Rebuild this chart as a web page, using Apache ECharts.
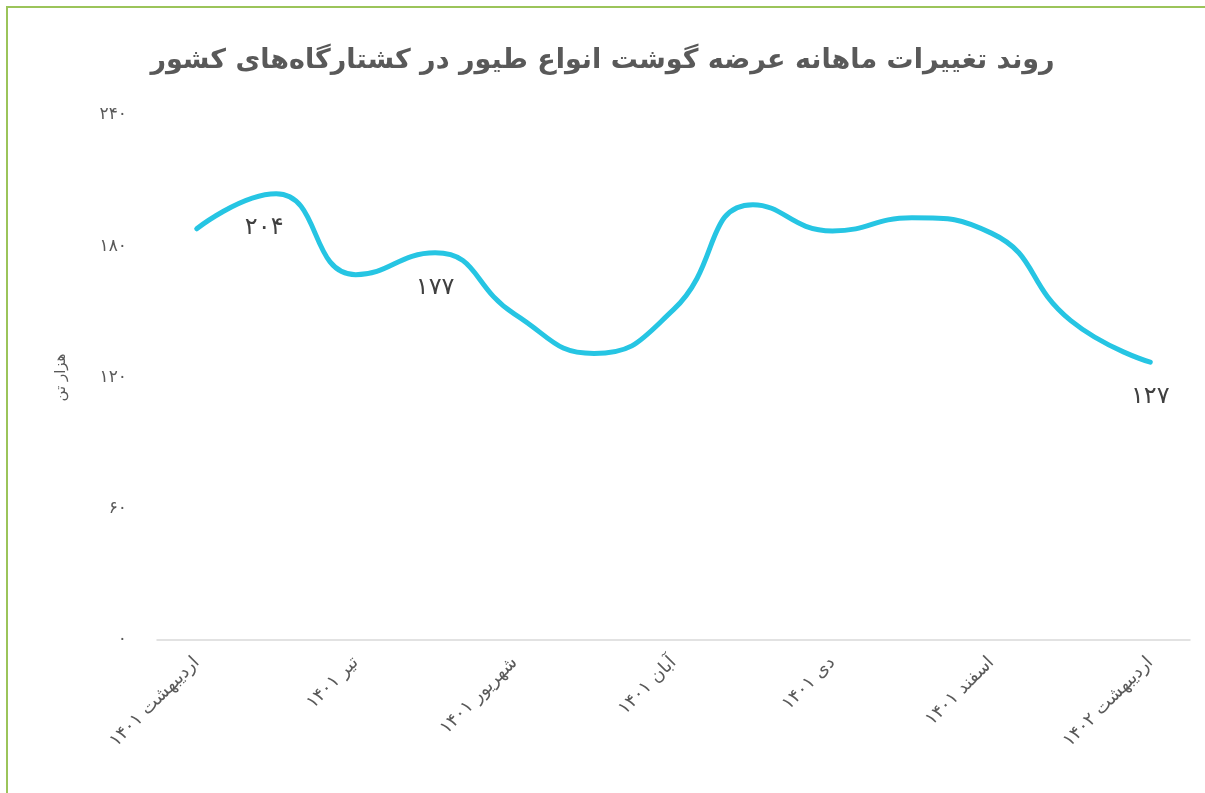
<!DOCTYPE html>
<html>
<head>
<meta charset="utf-8">
<script src="https://cdn.jsdelivr.net/npm/echarts@6/dist/echarts.min.js"></script>
<style>
    html, body {
        margin: 0;
        padding: 0;
        background: #ffffff;
    }

    #frame {
        position: absolute;
        left: 6px;
        top: 6px;
        width: 1205px;
        height: 793px;
        border-left: 2px solid #9bc45a;
        border-top: 2px solid #9bc45a;
    }

    #chart {
        position: absolute;
        left: 0;
        top: 0;
        width: 1205px;
        height: 793px;
    }
</style>
</head>
<body>
<div id="frame"></div>
<div id="chart"></div>
<script>
const months = [
    'اردیبهشت ۱۴۰۱', 'خرداد ۱۴۰۱', 'تیر ۱۴۰۱', 'مرداد ۱۴۰۱', 'شهریور ۱۴۰۱',
    'مهر ۱۴۰۱', 'آبان ۱۴۰۱', 'آذر ۱۴۰۱', 'دی ۱۴۰۱', 'بهمن ۱۴۰۱',
    'اسفند ۱۴۰۱', 'فروردین ۱۴۰۲', 'اردیبهشت ۱۴۰۲'
];
const supply = [188, 204, 167, 177, 149, 131, 151, 199, 187, 193, 186, 146, 127];
const labelledPoints = [1, 3, 12];
const yTicks = [0, 60, 120, 180, 240];

const faDigits = '۰۱۲۳۴۵۶۷۸۹';
function toFa(n) {
    return String(n).replace(/[0-9]/g, d => faDigits[d]);
}

const fontFamily = '"DejaVu Sans", sans-serif';

function initChart() {
    const chart = echarts.init(document.getElementById('chart'));
    const option = {
        backgroundColor: 'transparent',
        animation: false,
        title: {
            text: 'روند تغییرات ماهانه عرضه گوشت انواع طیور در کشتارگاه‌های کشور',
            left: 'center',
            top: 42,
            textStyle: {
                fontFamily,
                fontWeight: 'bold',
                fontSize: 27,
                color: '#595959'
            }
        },
        grid: {
            left: 157,
            right: 15,
            top: 115,
            bottom: 153
        },
        xAxis: {
            type: 'category',
            data: months,
            boundaryGap: true,
            axisLine: {
                lineStyle: { color: '#d9d9d9', width: 1.5 }
            },
            axisTick: { show: false },
            axisLabel: {
                interval: 1,
                rotate: 45,
                margin: 20,
                fontFamily,
                fontSize: 18,
                color: '#595959'
            }
        },
        yAxis: {
            type: 'value',
            min: yTicks[0],
            max: yTicks[yTicks.length - 1],
            interval: 60,
            name: 'هزار تن',
            nameLocation: 'middle',
            nameGap: 88,
            nameRotate: 90,
            nameTextStyle: {
                fontFamily,
                fontSize: 15,
                color: '#595959'
            },
            splitLine: { show: false },
            axisLine: { show: false },
            axisTick: { show: false },
            axisLabel: {
                margin: 30,
                fontFamily,
                fontSize: 17,
                color: '#595959',
                formatter: v => toFa(v)
            }
        },
        series: [
            {
                type: 'line',
                smooth: 0.5,
                showSymbol: true,
                symbol: 'circle',
                symbolSize: 1,
                itemStyle: { color: 'rgba(0,0,0,0)' },
                lineStyle: {
                    color: '#26c5e3',
                    width: 5,
                    cap: 'round'
                },
                data: supply.map((v, i) => ({
                    value: v,
                    label: {
                        show: labelledPoints.includes(i),
                        position: 'bottom',
                        distance: 22,
                        offset: i === 1 ? [-12, 0] : [0, 0],
                        formatter: p => toFa(p.value),
                        fontFamily,
                        fontSize: 24,
                        color: '#404040'
                    }
                }))
            }
        ]
    };
    chart.setOption(option);
}

initChart();
</script>
</body>
</html>
